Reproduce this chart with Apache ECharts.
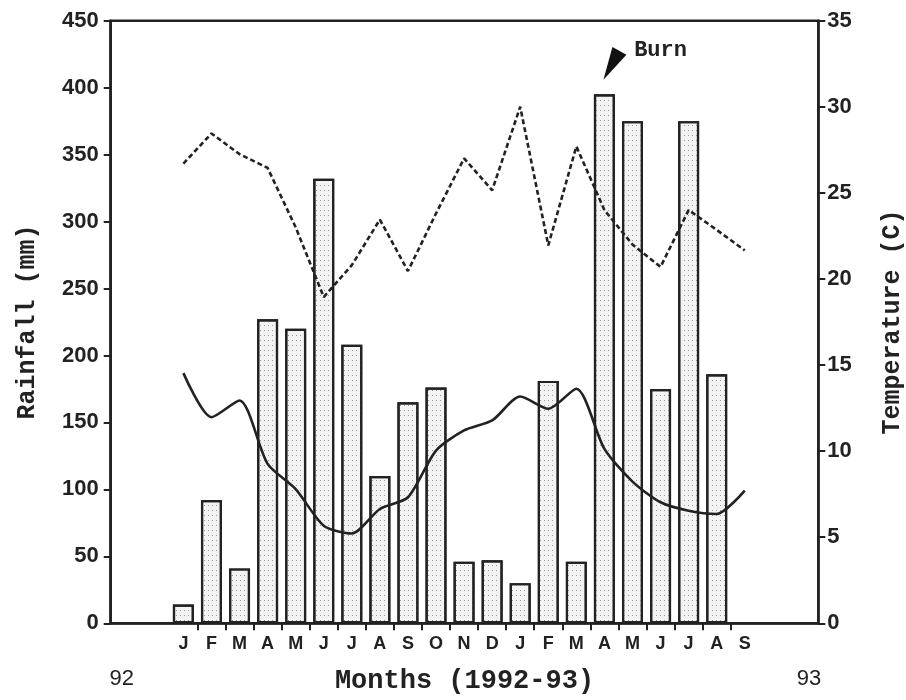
<!DOCTYPE html>
<html>
<head>
<meta charset="utf-8">
<script src="https://cdn.jsdelivr.net/npm/echarts@6/dist/echarts.min.js"></script>
<style>
html,body{margin:0;padding:0;background:#ffffff;}
#chart{width:906px;height:700px;}
</style>
</head>
<body>
<div id="chart"></div>
<script>
// ---- data ----
var months = ['J','F','M','A','M','J','J','A','S','O','N','D','J','F','M','A','M','J','J','A','S'];
var rainfall = [14, 92, 41, 227, 220, 332, 208, 110, 165, 176, 46, 47, 30, 181, 46, 395, 375, 175, 375, 186];
var maxTemp = [26.7, 28.45, 27.25, 26.45, 23.0, 18.95, 20.8, 23.45, 20.46, 23.8, 27.0, 25.15, 30.0, 21.95, 27.7, 24.0, 22.0, 20.7, 24.0, 22.85, 21.66];
var minTemp = [14.53, 11.97, 12.94, 9.26, 7.8, 5.67, 5.22, 6.64, 7.32, 10.03, 11.2, 11.78, 13.17, 12.46, 13.62, 10.13, 8.23, 7.03, 6.54, 6.35, 7.71];
var yearLabels = ['92', '93'];
var yearPositions = [-2.2, 22.29];
var burnLabel = 'Burn';
var burnPoint = [15.25, 416.6];
var burnTextPoint = [17.0, 428];

var ink = '#222222';
var monoFont = '"Liberation Mono", "DejaVu Sans Mono", monospace';
var sansFont = '"Liberation Sans", Arial, sans-serif';

function pairs(arr) { return arr.map(function (v, i) { return [i, v]; }); }
var monthIdx = months.map(function (m, i) { return i; });
var tickIdx = rainfall.map(function (v, i) { return i + 0.5; });

var chart = echarts.init(document.getElementById('chart'), null, {renderer: 'canvas'});
var option = {
  backgroundColor: '#ffffff',
  animation: false,
  grid: {
    left: 110.7, right: 87.7, top: 20.7, bottom: 76.7,
    containLabel: false, outerBoundsMode: 'none',
    show: true, borderColor: ink, borderWidth: 2.5, backgroundColor: 'transparent'
  },
  xAxis: [
    {
      type: 'value', min: -2.59, max: 22.62, position: 'bottom',
      axisLine: {show: true, onZero: false, lineStyle: {color: ink, width: 2.5}},
      axisTick: {show: true, customValues: tickIdx, length: 7, lineStyle: {color: ink, width: 2}},
      axisLabel: {
        customValues: monthIdx, margin: 12,
        formatter: function (v) { return months[Math.round(v)]; },
        color: ink, fontFamily: sansFont, fontSize: 18, fontWeight: 'bold'
      },
      splitLine: {show: false},
      name: 'Months (1992-93)', nameLocation: 'middle', nameGap: 44,
      nameTextStyle: {color: ink, fontFamily: monoFont, fontSize: 27, fontWeight: 'bold'}
    },
    {
      type: 'value', min: -2.59, max: 22.62, position: 'bottom',
      axisLine: {show: false, onZero: false}, axisTick: {show: false}, splitLine: {show: false},
      axisLabel: {
        customValues: yearPositions, margin: 45,
        formatter: function (v) { return v < 10 ? yearLabels[0] : yearLabels[1]; },
        color: ink, fontFamily: sansFont, fontSize: 22
      }
    }
  ],
  yAxis: [
    {
      type: 'value', min: 0, max: 450, interval: 50, position: 'left',
      axisLine: {show: true, onZero: false, lineStyle: {color: ink, width: 2.5}},
      axisTick: {show: true, length: 7, lineStyle: {color: ink, width: 2}},
      axisLabel: {color: ink, fontFamily: sansFont, fontSize: 22, fontWeight: 'bold', margin: 12},
      splitLine: {show: false},
      name: 'Rainfall (mm)', nameLocation: 'middle', nameGap: 70, nameRotate: 90,
      nameTextStyle: {color: ink, fontFamily: monoFont, fontSize: 25, fontWeight: 'bold'}
    },
    {
      type: 'value', min: 0, max: 35, interval: 5, position: 'right',
      axisLine: {show: true, onZero: false, lineStyle: {color: ink, width: 2.5}},
      axisTick: {show: true, length: 7, lineStyle: {color: ink, width: 2}},
      axisLabel: {color: ink, fontFamily: sansFont, fontSize: 22, fontWeight: 'bold', margin: 9},
      splitLine: {show: false},
      name: 'Temperature (C)', nameLocation: 'middle', nameGap: 62, nameRotate: 90,
      nameTextStyle: {color: ink, fontFamily: monoFont, fontSize: 25, fontWeight: 'bold'}
    }
  ],
  series: [
    {
      type: 'bar', name: 'Rainfall', xAxisIndex: 0, yAxisIndex: 0,
      data: pairs(rainfall), barWidth: 21,
      itemStyle: {
        color: '#f3f3f3', borderColor: ink, borderWidth: 2.2,
        decal: {symbol: 'rect', symbolSize: 1, color: '#9a9a9a', dashArrayX: [1, 3], dashArrayY: [1, 4], rotation: 0}
      },
      markPoint: {
        silent: true,
        data: [
          {coord: burnPoint, symbol: 'triangle', symbolSize: [16, 33], symbolRotate: 151,
           itemStyle: {color: '#111111'}, label: {show: false}},
          {coord: burnTextPoint, symbol: 'circle', symbolSize: 0,
           label: {show: true, formatter: burnLabel, position: 'inside', color: ink,
                   fontFamily: monoFont, fontSize: 22, fontWeight: 'bold'}}
        ]
      }
    },
    {
      type: 'line', name: 'Max temp', xAxisIndex: 0, yAxisIndex: 1,
      data: pairs(maxTemp), showSymbol: false, symbol: 'none',
      lineStyle: {color: ink, width: 2.6, type: [5, 3]}
    },
    {
      type: 'line', name: 'Min temp', xAxisIndex: 0, yAxisIndex: 1,
      data: pairs(minTemp), showSymbol: false, symbol: 'none', smooth: 0.25,
      lineStyle: {color: ink, width: 2.6}
    }
  ]
};
chart.setOption(option);
</script>
</body>
</html>
